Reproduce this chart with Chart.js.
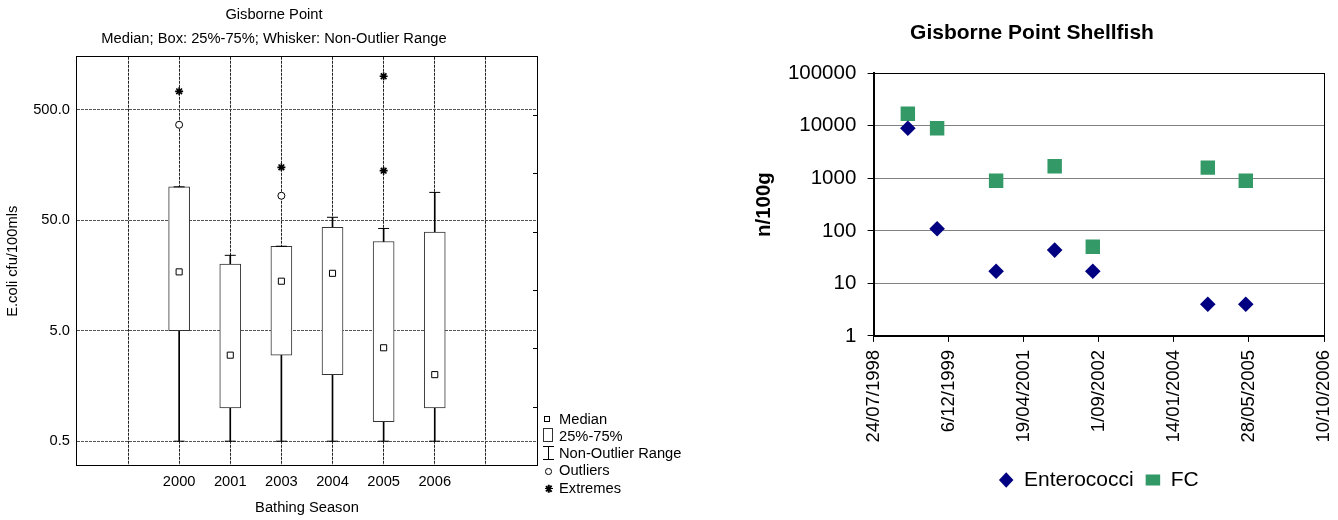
<!DOCTYPE html>
<html>
<head>
<meta charset="utf-8">
<title>Gisborne Point</title>
<script src="https://cdn.jsdelivr.net/npm/chart.js@4.4.1/dist/chart.umd.min.js"></script>
<style>
  body { margin: 0; width: 1338px; height: 520px; overflow: hidden; position: relative; background: #fff;
         font-family: "Liberation Sans", Arial, sans-serif; color: #000; }
  canvas { position: absolute; top: 0; }
  #boxCanvas { left: 0; }
  #shellCanvas { left: 740px; }
  /* legend of the box plot, built in html */
  #boxLegend { position: absolute; left: 543px; top: 410.7px; font-size: 14.7px; line-height: 17.25px; }
  .row { position: relative; height: 17.25px; white-space: nowrap; }
  .row .lbl { position: absolute; left: 16px; top: 0; }
  .ico { position: absolute; box-sizing: border-box; }
  .med { left: 1px; top: 5.6px; width: 6px; height: 6px; border: 1px solid #000; }
  .box { left: 0; top: 0; width: 10px; height: 13.7px; border: 1px solid #333; }
  .rng { left: 0; top: 1.3px; width: 11px; height: 14px; border-top: 1px solid #000; border-bottom: 1px solid #000; }
  .rng::after { content: ""; position: absolute; left: 5px; top: 0; width: 1px; height: 12px; background: #000; }
  .out { left: 2px; top: 5.6px; width: 6.5px; height: 6.5px; border: 1px solid #000; border-radius: 50%; }
  .ext { left: 1.5px; top: 4.6px; width: 8px; height: 8px; }
  .ext i { position: absolute; left: 0; top: 3.25px; width: 8px; height: 1.5px; background: #000; }
</style>
</head>
<body>
<canvas id="boxCanvas" width="548" height="520"></canvas>
<div id="boxLegend">
  <div class="row"><span class="ico med"></span><span class="lbl">Median</span></div>
  <div class="row"><span class="ico box"></span><span class="lbl">25%-75%</span></div>
  <div class="row"><span class="ico rng"></span><span class="lbl">Non-Outlier Range</span></div>
  <div class="row"><span class="ico out"></span><span class="lbl">Outliers</span></div>
  <div class="row"><span class="ico ext"><i></i><i style="transform:rotate(45deg)"></i><i style="transform:rotate(90deg)"></i><i style="transform:rotate(135deg)"></i></span><span class="lbl">Extremes</span></div>
</div>
<canvas id="shellCanvas" width="640" height="520"></canvas>

<script>
// E.coli cfu/100mls per bathing season
const seasons = ['2000', '2001', '2003', '2004', '2005', '2006'];
const medians = [17, 3, 14, 16.5, 3.5, 2];
const q25 = [5, 1, 3, 2, 0.75, 1];
const q75 = [100, 20, 29, 43, 32, 39];
const rangeMin = [0.5, 0.5, 0.5, 0.5, 0.5, 0.5];
const rangeMax = [100, 24, 29, 53, 42, 89];
const outlierSeasons = ['2000', '2003'];
const outlierValues = [364, 83];
const extremeSeasons = ['2000', '2003', '2005', '2005'];
const extremeValues = [730, 150, 1000, 140];
const ecoliTicks = [0.5, 5, 50, 500];

// Gisborne Point shellfish, n/100g
const sampleDates = ['1999-03-09', '1999-09-20', '2000-10-17', '2001-11-11', '2002-07-23', '2004-08-27', '2005-05-07'];
const enterococci = [9000, 110, 17, 43, 17, 4, 4];
const faecalColiforms = [17000, 9000, 900, 1700, 50, 1600, 900];
const shellDateTicks = ['1998-07-24', '1999-12-06', '2001-04-19', '2002-09-01', '2004-01-14', '2005-05-28', '2006-10-10'];
const shellTicks = [1, 10, 100, 1000, 10000, 100000];

const FAMILY = '"Liberation Sans", Arial, sans-serif';
const SLOT_OFFSET = 2;   // the seasons sit on slots 2..7 of a 0..9 axis
const SLOT_MAX = 9;

const slot = s => seasons.indexOf(s) + SLOT_OFFSET;
const toMs = s => new Date(s + 'T00:00:00Z').getTime();
const fmtDate = v => {
  const d = new Date(v);
  return d.getUTCDate() + '/' + String(d.getUTCMonth() + 1).padStart(2, '0') + '/' + d.getUTCFullYear();
};

// ---- box plot ----
const f147 = { family: FAMILY, size: 14.7 };

new Chart(document.getElementById('boxCanvas'), {
  type: 'bar',
  data: {
    datasets: [
      {
        label: 'Median', type: 'scatter', order: 1,
        data: seasons.map((s, i) => ({ x: slot(s), y: medians[i] })),
        pointStyle: 'rect', pointRadius: 4.3, backgroundColor: '#fff', borderColor: '#000', borderWidth: 1
      },
      {
        label: 'Outliers', type: 'scatter', order: 2,
        data: outlierSeasons.map((s, i) => ({ x: slot(s), y: outlierValues[i] })),
        pointStyle: 'circle', pointRadius: 3.5, backgroundColor: '#fff', borderColor: '#000', borderWidth: 1
      },
      {
        label: 'Extremes', type: 'scatter', order: 2,
        data: extremeSeasons.map((s, i) => ({ x: slot(s), y: extremeValues[i] })),
        pointStyle: 'star', pointRadius: 4, borderColor: '#000', borderWidth: 1.6
      },
      {
        label: 'Caps', type: 'scatter', order: 3,
        data: seasons.flatMap((s, i) => [{ x: slot(s), y: rangeMin[i] }, { x: slot(s), y: rangeMax[i] }]),
        pointStyle: 'line', pointRadius: 5.5, borderColor: '#000', borderWidth: 1
      },
      {
        label: '25%-75%', type: 'bar', order: 4, grouped: false,
        data: seasons.map((s, i) => ({ x: slot(s), y: [q25[i], q75[i]] })),
        barThickness: 21, backgroundColor: '#fff', borderColor: '#333', borderWidth: 1, borderSkipped: false
      },
      {
        label: 'Non-Outlier Range', type: 'bar', order: 5, grouped: false,
        data: seasons.map((s, i) => ({ x: slot(s), y: [rangeMin[i], rangeMax[i]] })),
        barThickness: 1, backgroundColor: '#000', borderWidth: 0
      }
    ]
  },
  options: {
    responsive: false,
    animation: false,
    events: [],
    layout: { padding: { left: 0, right: 0, top: 0, bottom: 1 } },
    plugins: {
      legend: { display: false },
      tooltip: { enabled: false },
      title: {
        display: true, text: 'Gisborne Point', color: '#000',
        font: { ...f147, weight: 'normal' }, padding: { top: 6, bottom: 0 }
      },
      subtitle: {
        display: true, text: 'Median; Box: 25%-75%; Whisker: Non-Outlier Range', color: '#000',
        font: f147, padding: { top: 6, bottom: 9.5 }
      }
    },
    scales: {
      x: {
        type: 'linear', min: 0, max: SLOT_MAX, offset: false,
        afterBuildTicks: axis => {
          axis.ticks = Array.from({ length: SLOT_MAX + 1 }, (_, k) => ({ value: k }));
        },
        ticks: {
          callback: v => seasons[v - SLOT_OFFSET] ?? '',
          color: '#000', font: f147, padding: 7, autoSkip: false, maxRotation: 0
        },
        grid: { color: '#222', lineWidth: 1, drawTicks: false, offset: false },
        border: { color: '#000', dash: [3, 1] },
        title: { display: true, text: 'Bathing Season', color: '#000', font: f147, padding: { top: 2, bottom: 2 } }
      },
      xTop: {
        type: 'linear', position: 'top',
        ticks: { display: false },
        grid: { drawOnChartArea: false, drawTicks: false },
        border: { color: '#000' }
      },
      y: {
        type: 'logarithmic', min: 0.3, max: 1500,
        afterBuildTicks: axis => { axis.ticks = ecoliTicks.map(v => ({ value: v })); },
        ticks: { callback: v => Number(v).toFixed(1), color: '#000', font: f147, padding: 7 },
        grid: { color: '#555', drawTicks: false },
        border: { color: '#000', dash: [3, 1] },
        title: { display: true, text: 'E.coli cfu/100mls', color: '#000', font: f147, padding: { top: 4.5, bottom: 4 } }
      },
      yRight: {
        type: 'linear', position: 'right', min: 0, max: 7,
        afterFit: axis => { axis.width = 11; },
        ticks: { display: false, stepSize: 1 },
        grid: { drawOnChartArea: false, drawTicks: true, tickLength: -4, color: '#000' },
        border: { color: '#000' }
      }
    }
  }
});

// ---- shellfish scatter ----
new Chart(document.getElementById('shellCanvas'), {
  type: 'scatter',
  data: {
    datasets: [
      {
        label: 'Enterococci',
        data: sampleDates.map((d, i) => ({ x: toMs(d), y: enterococci[i] })),
        pointStyle: 'rectRot', pointRadius: 7.8,
        backgroundColor: '#000080', borderColor: '#000080', borderWidth: 0
      },
      {
        label: 'FC',
        data: sampleDates.map((d, i) => ({ x: toMs(d), y: faecalColiforms[i] })),
        pointStyle: 'rect', pointRadius: 10.2,
        backgroundColor: '#339966', borderColor: '#339966', borderWidth: 0
      }
    ]
  },
  options: {
    responsive: false,
    animation: false,
    events: [],
    layout: { padding: { left: 0, right: 56, top: 0, bottom: 19.5 } },
    plugins: {
      tooltip: { enabled: false },
      title: {
        display: true, text: 'Gisborne Point Shellfish', color: '#000',
        font: { family: FAMILY, size: 21, weight: 'bold' }, padding: { top: 20.7, bottom: 27.4 }
      },
      legend: {
        position: 'bottom', fullSize: false,
        labels: {
          usePointStyle: true, pointStyleWidth: 14.5, boxHeight: 11, padding: 12,
          color: '#000', font: { family: FAMILY, size: 21 }
        }
      }
    },
    scales: {
      x: {
        type: 'linear',
        min: toMs(shellDateTicks[0]), max: toMs(shellDateTicks[shellDateTicks.length - 1]),
        afterBuildTicks: axis => { axis.ticks = shellDateTicks.map(d => ({ value: toMs(d) })); },
        afterFit: axis => { axis.height += 7; },
        ticks: {
          callback: v => fmtDate(v), color: '#000', font: { family: FAMILY, size: 18.5 },
          padding: 8, minRotation: 90, maxRotation: 90, autoSkip: false
        },
        grid: { drawOnChartArea: false, tickLength: 6, tickColor: '#000' },
        border: { color: '#000', width: 2 }
      },
      xTop: {
        type: 'linear', position: 'top',
        ticks: { display: false },
        grid: { drawOnChartArea: false, drawTicks: false },
        border: { color: '#000', width: 1 }
      },
      y: {
        type: 'logarithmic', min: 1, max: 100000,
        afterBuildTicks: axis => { axis.ticks = shellTicks.map(v => ({ value: v })); },
        ticks: { callback: v => String(v), color: '#000', font: { family: FAMILY, size: 20.5 }, padding: 11.3 },
        grid: { color: '#808080', tickLength: 6, tickColor: '#000' },
        border: { color: '#000', width: 2 },
        title: {
          display: true, text: 'n/100g', color: '#000',
          font: { family: FAMILY, size: 20.5, weight: 'bold' }, padding: { top: 12, bottom: 0 }
        }
      },
      yRight: {
        type: 'linear', position: 'right',
        ticks: { display: false },
        grid: { drawOnChartArea: false, drawTicks: false },
        border: { color: '#000', width: 1 }
      }
    }
  }
});
</script>
</body>
</html>
